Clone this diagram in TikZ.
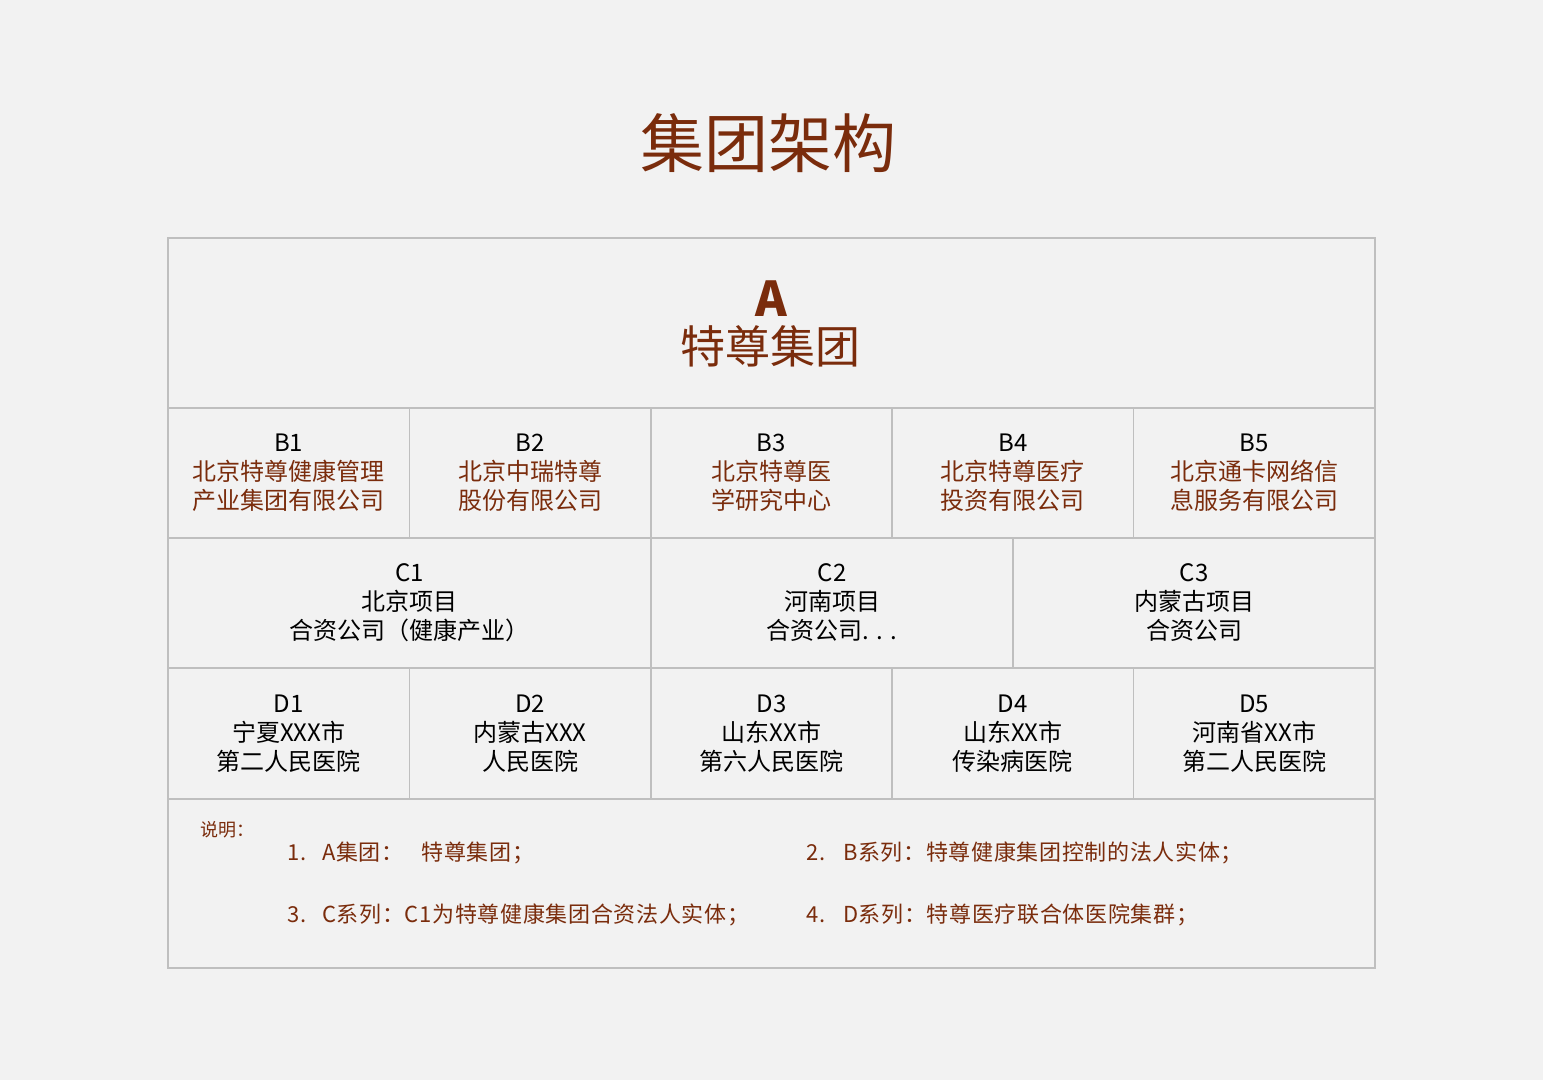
\documentclass[tikz,border=0pt]{standalone}
\usepackage{fontspec}
\setmainfont{Noto Sans CJK SC}
\newfontfamily\notefont{Noto Sans CJK SC}[LetterSpace=3]
\definecolor{brn}{RGB}{122,44,12}
\definecolor{bgc}{RGB}{242,242,242}
\definecolor{lnc}{RGB}{191,191,191}
\tikzset{
  cell/.style={draw=lnc, line width=1.5pt, inner sep=0pt, align=center, text=brn,
    font=\fontsize{24}{29}\selectfont},
  note/.style={text=brn, inner sep=0pt, anchor=west, font=\notefont\fontsize{22}{25}\selectfont},
}
\newcommand{\lbl}[1]{{\color{black}#1}}
\begin{document}
\begin{tikzpicture}[x=1pt,y=-1pt]
\fill[bgc] (0,0) rectangle (1543,1080);
\useasboundingbox (0,0) rectangle (1543,1080);
% title
\node[text=brn, font=\fontsize{64}{64}\selectfont, inner sep=0pt] (title) at (768,143) {集团架构};
% A row
\node[cell, minimum width=1207pt, minimum height=170pt] (A) at (771.5,323) {};
\node[text=brn, font=\fontsize{48}{48}\selectfont\bfseries, inner sep=0pt] (Aletter) at (771.5,299) {A};
\node[text=brn, font=\fontsize{45}{45}\selectfont, inner sep=0pt] (Aname) at (770,346) {特尊集团};
% B row
\node[cell, minimum width=241.4pt, minimum height=130pt] (B1) at (288.7,473) {\lbl{B1}\\北京特尊健康管理\\产业集团有限公司};
\node[cell, minimum width=241.4pt, minimum height=130pt] (B2) at (530.1,473) {\lbl{B2}\\北京中瑞特尊\\股份有限公司};
\node[cell, minimum width=241.4pt, minimum height=130pt] (B3) at (771.5,473) {\lbl{B3}\\北京特尊医\\学研究中心};
\node[cell, minimum width=241.4pt, minimum height=130pt] (B4) at (1012.9,473) {\lbl{B4}\\北京特尊医疗\\投资有限公司};
\node[cell, minimum width=241.4pt, minimum height=130pt] (B5) at (1254.3,473) {\lbl{B5}\\北京通卡网络信\\息服务有限公司};
% C row
\node[cell, text=black, minimum width=483pt, minimum height=130pt] (C1) at (409.5,603) {C1\\北京项目\\合资公司（健康产业）};
\node[cell, text=black, minimum width=362pt, minimum height=130pt] (C2) at (832,603) {C2\\河南项目\\合资公司. . .};
\node[cell, text=black, minimum width=362pt, minimum height=130pt] (C3) at (1194,603) {C3\\内蒙古项目\\合资公司};
% D row
\node[cell, text=black, minimum width=241.4pt, minimum height=131pt] (D1) at (288.7,733.5) {D1\\宁夏XXX市\\第二人民医院};
\node[cell, text=black, minimum width=241.4pt, minimum height=131pt] (D2) at (530.1,733.5) {D2\\内蒙古XXX\\人民医院};
\node[cell, text=black, minimum width=241.4pt, minimum height=131pt] (D3) at (771.5,733.5) {D3\\山东XX市\\第六人民医院};
\node[cell, text=black, minimum width=241.4pt, minimum height=131pt] (D4) at (1012.9,733.5) {D4\\山东XX市\\传染病医院};
\node[cell, text=black, minimum width=241.4pt, minimum height=131pt] (D5) at (1254.3,733.5) {D5\\河南省XX市\\第二人民医院};
% notes
\node[cell, minimum width=1207pt, minimum height=169pt] (N) at (771.5,883.5) {};
\node[note, font=\fontsize{18}{20}\selectfont] (ntitle) at (200,830) {说明：};
\node[note] (n1) at (287,853) {1.\hspace{16pt}A集团：\hspace{18pt}特尊集团；};
\node[note] (n2) at (806,853) {2.\hspace{18pt}B系列：特尊健康集团控制的法人实体；};
\node[note] (n3) at (287,915) {3.\hspace{16pt}C系列：C1为特尊健康集团合资法人实体；};
\node[note] (n4) at (806,915) {4.\hspace{18pt}D系列：特尊医疗联合体医院集群；};
\end{tikzpicture}
\end{document}
